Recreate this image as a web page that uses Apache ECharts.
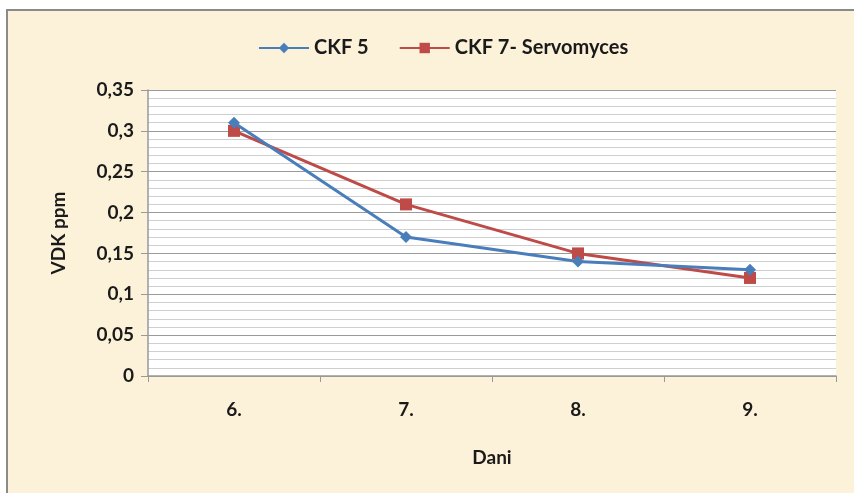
<!DOCTYPE html>
<html><head><meta charset="utf-8">
<script src="https://cdn.jsdelivr.net/npm/echarts@6/dist/echarts.min.js"></script>
<style>
html,body{margin:0;padding:0;background:#fff;width:854px;height:493px;overflow:hidden;}
#frame{position:absolute;left:6px;top:9px;width:848px;height:484px;background:#fcf1d9;border-left:2px solid #8a8a8a;border-top:2px solid #8a8a8a;box-sizing:border-box;}
#c{position:absolute;left:0;top:0;width:854px;height:493px;}
</style></head>
<body>
<div id="frame"></div>
<div id="c"></div>
<script>
const categories = ['6.', '7.', '8.', '9.'];
const ckf5 = [0.31, 0.17, 0.14, 0.13];
const ckf7 = [0.30, 0.21, 0.15, 0.12];
const seriesNames = ['CKF 5', 'CKF 7- Servomyces'];

const chart = echarts.init(document.getElementById('c'));
const font = 'Lato, "Open Sans", sans-serif';
const txt = {fontFamily: font, fontWeight: 'bold', fontSize: 19, color: '#1a1a1a'};
chart.setOption({
  backgroundColor: 'transparent',
  animation: false,
  legend: {
    top: 33, left: 253,
    itemWidth: 50, itemHeight: 13, itemGap: 30,
    textStyle: Object.assign({}, txt, {fontSize: 20}),
    data: seriesNames
  },
  grid: {left: 148, right: 18, top: 90, bottom: 117, show: true, backgroundColor: '#fff', borderWidth: 0},
  xAxis: {
    type: 'category', data: categories, boundaryGap: true,
    name: 'Dani', nameLocation: 'middle', nameGap: 72,
    nameTextStyle: txt,
    axisLine: {lineStyle: {color: '#999', width: 1.5}},
    axisTick: {show: true, length: 6, lineStyle: {color: '#999'}},
    axisLabel: Object.assign({margin: 24}, txt),
    splitLine: {show: false}
  },
  yAxis: {
    type: 'value', min: 0, max: 0.35, interval: 0.05,
    name: 'VDK ppm', nameLocation: 'middle', nameGap: 80,
    nameTextStyle: txt,
    axisLine: {show: true, lineStyle: {color: '#999', width: 1.5}},
    axisTick: {show: true, length: 7, lineStyle: {color: '#999'}},
    axisLabel: Object.assign({margin: 14,
      formatter: v => String(Math.round(v * 100) / 100).replace('.', ',')}, txt),
    splitLine: {show: true, lineStyle: {color: '#9a9a9a', width: 1.2}},
    minorTick: {show: true, splitNumber: 5, length: 0},
    minorSplitLine: {show: true, lineStyle: {color: '#cfcfcf', width: 1.2}}
  },
  series: [
    {name: seriesNames[0], type: 'line', data: ckf5, symbol: 'diamond', symbolSize: 12,
     itemStyle: {color: '#4a7ebb'}, lineStyle: {color: '#4a7ebb', width: 3}, z: 3},
    {name: seriesNames[1], type: 'line', data: ckf7, symbol: 'rect', symbolSize: 12,
     itemStyle: {color: '#be4b48'}, lineStyle: {color: '#be4b48', width: 3}, z: 2}
  ]
});
</script>
</body></html>
